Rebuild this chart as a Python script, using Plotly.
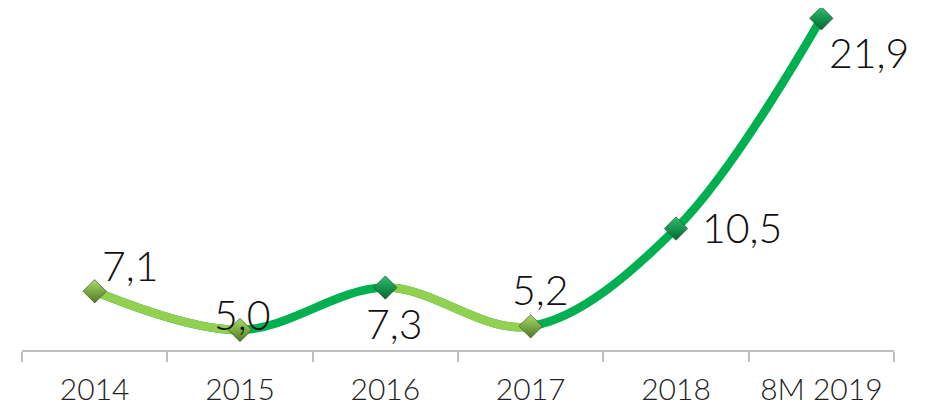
import plotly.graph_objects as go

# ---- data ----
categories = ["2014", "2015", "2016", "2017", "2018", "8M 2019"]
values = [7.1, 5.0, 7.3, 5.2, 10.5, 21.9]

# ---- style ----
DARK = "#00B050"
LIGHT = "#92D050"
LINE_W = 8.5
marker_top = ["#A9DC6A", "#A9DC6A", "#2FC070", "#A9DC6A", "#2FC070", "#2FC070"]
marker_bot = ["#4E7A22", "#4E7A22", "#006830", "#4E7A22", "#006830", "#006830"]
label_shift = [(36, 26), (2, 15), (9, -36), (10, 37), (66, 1), (48, -34)]
light_segments = [(0, 1), (2, 3)]  # segments drawn in light green

idx = list(range(len(categories)))
n = len(categories)

fig = go.Figure()

# full dark smooth line
fig.add_trace(go.Scatter(
    x=categories, y=values, mode="lines",
    line=dict(color=DARK, width=LINE_W, shape="spline", smoothing=1.0),
    xaxis="x", yaxis="y", hoverinfo="skip", showlegend=False))

# light segments: same spline, clipped to the segment's x-span via narrow axes
layout_axes = {}
for k, (a, b) in enumerate(light_segments):
    ax_id = k + 2
    fig.add_trace(go.Scatter(
        x=idx, y=values, mode="lines",
        line=dict(color=LIGHT, width=LINE_W, shape="spline", smoothing=1.0),
        xaxis=f"x{ax_id}", yaxis="y", hoverinfo="skip", showlegend=False))
    layout_axes[f"xaxis{ax_id}"] = dict(
        domain=[(a + 0.5) / n, (b + 0.5) / n], range=[a, b],
        visible=False, anchor="y", fixedrange=True)

# markers on a full-width overlay axis so they are on top
mk_ax = len(light_segments) + 2
fig.add_trace(go.Scatter(
    x=idx, y=values, mode="markers",
    marker=dict(symbol="diamond", size=18, color=marker_top,
                gradient=dict(type="vertical", color=marker_bot),
                line=dict(width=0.6, color="#2E4A14")),
    xaxis=f"x{mk_ax}", yaxis="y", hoverinfo="skip", showlegend=False,
    cliponaxis=False))
layout_axes[f"xaxis{mk_ax}"] = dict(domain=[0, 1], range=[-0.5, n - 0.5],
                                    visible=False, anchor="y")

annotations = []
for i, v in enumerate(values):
    dx, dy = label_shift[i]
    annotations.append(dict(
        x=i, y=v, xref=f"x{mk_ax}", yref="y",
        text=f"{v:.1f}".replace(".", ","), showarrow=False,
        xshift=dx, yshift=dy,
        font=dict(family="Lato", size=41, color="#111111", weight=300)))

fig.update_layout(
    width=928, height=405,
    margin=dict(l=14, r=42, t=2, b=63),
    paper_bgcolor="white", plot_bgcolor="rgba(0,0,0,0)",
    showlegend=False,
    xaxis=dict(type="category", categoryorder="array", categoryarray=categories,
               range=[-0.5, n - 0.5], showgrid=False, zeroline=False,
               showline=True, linecolor="#BFBFBF", linewidth=2,
               ticks="outside", tickson="boundaries", ticklen=10,
               tickcolor="#BFBFBF", tickwidth=2, ticklabelstandoff=12,
               tickfont=dict(family="Lato", size=30, color="#222222", weight=300),
               fixedrange=True),
    yaxis=dict(range=[3.915, 22.35], visible=False, fixedrange=True),
    annotations=annotations,
    **layout_axes,
)

fig.write_html("out.html")
